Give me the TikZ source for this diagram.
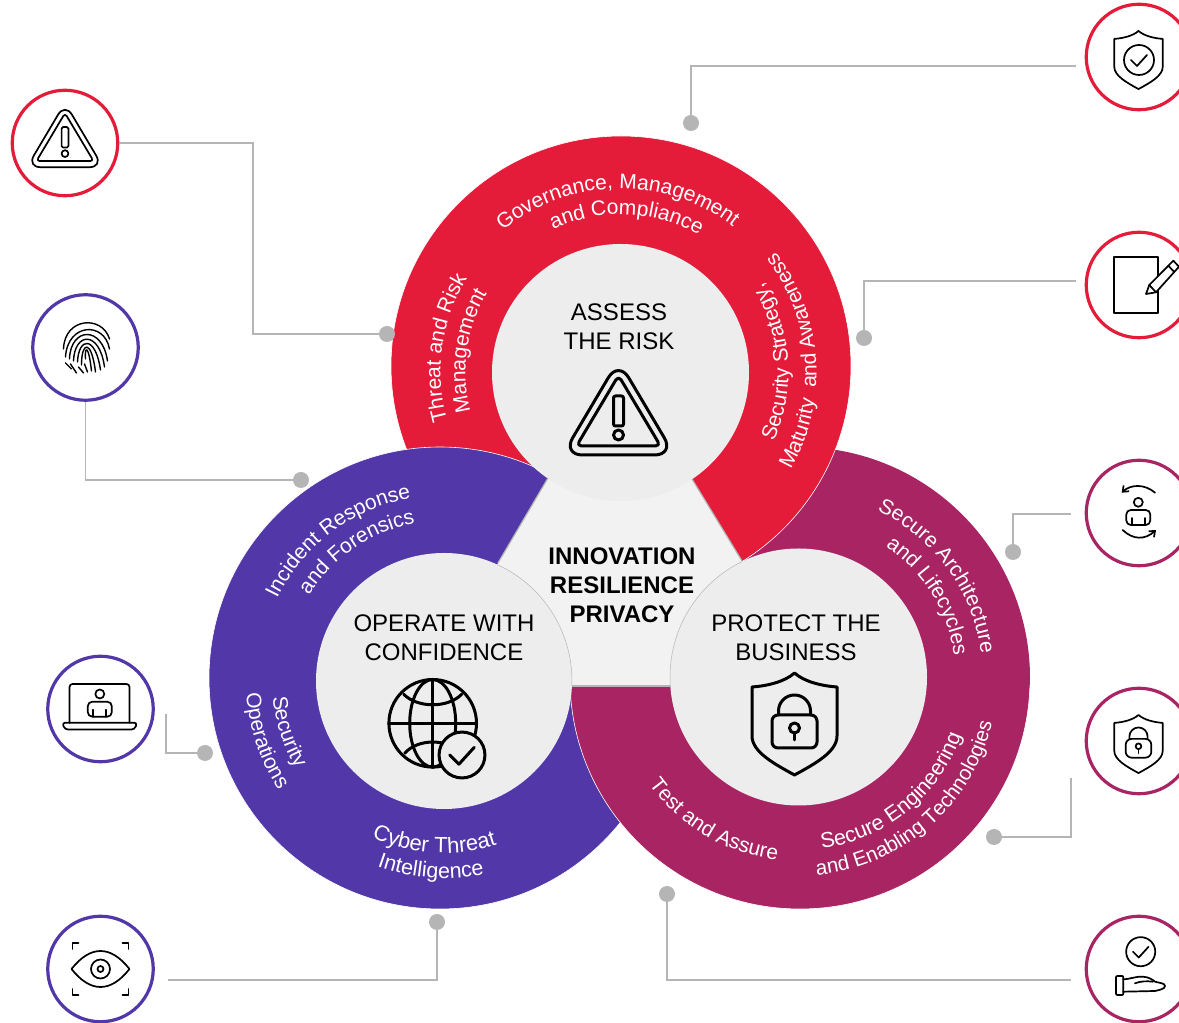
\documentclass[tikz,border=0pt]{standalone}
\usepackage{fontspec}
\setmainfont{Liberation Sans}
\usetikzlibrary{calc,positioning,arrows.meta,decorations.text}
\definecolor{riskred}{HTML}{E41C3A}
\definecolor{opsblue}{HTML}{5137A8}
\definecolor{bizpurple}{HTML}{A92463}
\definecolor{hubgrey}{HTML}{EDEDED}
\definecolor{paleback}{HTML}{F2F2F2}
\definecolor{linkgrey}{HTML}{B5B5B5}
\newcommand{\arctext}[6][21]{%
  \path[decorate,decoration={text along path,text align=center,
      text={|\fontsize{#1}{26}\selectfont\color{white}|#6}}]
    ($(#2)+(#4:#3)$) arc[start angle=#4,end angle=#5,radius=#3];}
\tikzset{
      link/.style = {draw=linkgrey, line width=1.8pt},
   dotnode/.style = {circle, fill=linkgrey, inner sep=0pt, minimum size=16pt},
      ring/.style = {circle, draw=#1, line width=3.2pt, fill=white, inner sep=0pt, minimum size=105.5pt},
   hubtext/.style = {align=center, text=black, font=\fontsize{24}{29}\selectfont},
   bigicon/.style = {line width=3pt, line join=round, line cap=round},
 smallicon/.style = {line width=1.7pt, line join=round, line cap=round},
  warnicon/.pic = {
    \draw[rounded corners=20*#1] (0,53) -- (-56,-41.5) -- (56,-41.5) -- cycle;
    \draw[rounded corners=5*#1] (0,38) -- (-42,-32.5) -- (42,-32.5) -- cycle;
    \draw[rounded corners=2*#1] (-5,17.5) rectangle (5,-12.5);
    \draw (0,-21.5) circle (5);
  },
  shieldicon/.pic = {
    \draw (0,51) .. controls (-10,42) and (-28,38) .. (-42.5,37) -- (-42.5,-12)
       .. controls (-42.5,-28) and (-20,-40) .. (0,-51)
       .. controls (20,-40) and (42.5,-28) .. (42.5,-12) -- (42.5,37)
       .. controls (28,38) and (10,42) .. (0,51) -- cycle;
  },
  lockicon/.pic = {
    \pic[transform shape] {shieldicon};
    \draw[rounded corners=6] (-22.5,9) rectangle (22.5,-24);
    \draw (-16,9) -- (-16,13) arc[start angle=180,end angle=0,radius=16] -- (16,9);
    \draw (0,-4) circle (5);
    \draw (0,-9) -- (0,-16);
  },
  checkicon/.pic = {
    \draw (0,0) circle (15);
    \draw (-8,0) -- (-2,-6) -- (8,5);
  },
  personicon/.pic = {
    \draw (0,22.7) circle (4.5);
    \draw[rounded corners=4.5] (-12,0) rectangle (12,15);
    \draw (-6.5,0) -- (-6.5,7);
    \draw (6.5,0) -- (6.5,7);
  },
  globeicon/.pic = {
    \draw (0,0) circle (43.8);
    \draw (0,0) ellipse (23 and 43.8);
    \draw (0,43.8) -- (0,-43.8);
    \draw (-43.8,0) -- (43.8,0);
    \draw (-29,29) .. controls (-15,15) and (15,15) .. (29,29);
    \draw (-28,-30) .. controls (-15,-15) and (15,-15) .. (28,-30);
    \fill[hubgrey] (29.3,-31.7) circle (23);
    \pic[scale=1.53] at (29.3,-31.7) {checkicon};
  },
  fingericon/.pic = {
    \draw (-23,-2) .. controls (-22,30) and (16,32) .. (23,8);
    \draw (-21,-10) .. controls (-19,24) and (18,26) .. (23,-2);
    \draw (-17,-12) .. controls (-16,20) and (16,22) .. (21,-14);
    \draw (-13,-14) .. controls (-12,15) and (13,17) .. (18,-20);
    \draw (-9,-15) .. controls (-8,10) and (9,12) .. (14,-23);
    \draw (-5,-18) .. controls (-5,6) and (5,8) .. (9,-25);
    \draw (-1,-12) .. controls (-2,1) and (2,3) .. (5,-24);
    \draw (-2,-17) -- (1,-25);
    \draw (-8,-20) -- (-3,-26);
    \draw (-16,-17) -- (-10,-26);
    \draw (-21,-16) -- (-15,-22);
  },
}
\begin{document}
\begin{tikzpicture}[x=1pt,y=1pt]
  \clip (0,0) rectangle (1179,1023);
  \coordinate (redhub) at (620.5,650.5);
  \coordinate (bluehub) at (444,342);
  \coordinate (purplehub) at (798.5,346);

  % the three overlapping discs
  \begin{scope}
    \clip (500,337) rectangle (1100,700);
    \fill[bizpurple] (799,345) circle (231);
  \end{scope}
  \filldraw[fill=riskred,draw=white,line width=.6pt] (621,657) circle (230);
  \filldraw[fill=opsblue,draw=white,line width=.6pt] (440,345) circle (231);
  \begin{scope}
    \clip (500,0) rectangle (1100,337);
    \filldraw[fill=bizpurple,draw=white,line width=.6pt] (800,344) circle (230);
  \end{scope}

  \fill[paleback] (548,545) -- (692,544) -- (742,462) -- (purplehub) -- (670,337) -- (572,337) -- (bluehub) -- (498,460) -- cycle;
  \fill[hubgrey] (redhub) circle (128.5);
  \fill[hubgrey] (bluehub) circle (128);
  \fill[hubgrey] (purplehub) circle (128.5);
  \draw[linkgrey,line width=1.2pt] (548,545) -- (498,460);
  \draw[linkgrey,line width=1.2pt] (692,544) -- (742,462);
  \draw[linkgrey,line width=1.2pt] (572,337) -- (670,337);
  \draw[linkgrey,line width=.5pt] ($(bluehub)+(65.4:128)$) arc[start angle=65.4,end angle=-2.2,radius=128];
  \draw[linkgrey,line width=.5pt] ($(purplehub)+(116:128.5)$) arc[start angle=116,end angle=184,radius=128.5];

  \node[hubtext] (assess) at (619,696) {ASSESS\\THE RISK};
  \node[hubtext] (operate) at (444,385) {OPERATE WITH\\CONFIDENCE};
  \node[hubtext] (protect) at (796,385) {PROTECT THE\\BUSINESS};
  \node[hubtext,font=\fontsize{24}{29}\bfseries\selectfont] (centre) at (622,438) {INNOVATION\\RESILIENCE\\PRIVACY};

  \pic[bigicon] at (618.5,609.5) {warnicon=1};
  \pic[bigicon] at (432.7,299.7) {globeicon};
  \pic[bigicon] at (794.5,299) {lockicon};

  % labels on the bands
  \arctext{redhub}{184}{151}{31}{Governance, Management}
  \arctext{redhub}{158}{147.7}{27.7}{and Compliance}
  \arctext{redhub}{180}{232}{112}{Threat and Risk}
  \arctext{redhub}{155}{232}{112}{Management}
  \arctext{redhub}{168}{-56}{64}{Security Strategy,}
  \arctext{redhub}{196}{-56}{64}{Maturity {\ }and Awareness}
  \arctext{bluehub}{186}{187}{67}{Incident Response}
  \arctext{bluehub}{160}{184}{64}{and Forensics}
  \arctext{bluehub}{172}{138}{258}{Security}
  \arctext{bluehub}{198}{138.5}{258.5}{Operations}
  \arctext[22]{bluehub}{172}{206.5}{326.5}{Cyber Threat}
  \arctext[21.5]{bluehub}{197}{206}{326}{Intelligence}
  \arctext{purplehub}{184}{96}{-24}{Secure Architecture}
  \arctext{purplehub}{157}{92}{-28}{and Lifecycles}
  \arctext{purplehub}{184}{179.5}{299.5}{Test and Assure}
  \arctext[21.5]{purplehub}{173}{249}{369}{Secure Engineering}
  \arctext[20.6]{purplehub}{199}{251}{371}{and Enabling Technologies}

  % outer icons
  \node[ring=riskred] (warnring) at (65,880) {};
  \node[ring=opsblue] (fingerring) at (85.5,675.5) {};
  \node[ring=opsblue] (laptopring) at (100.5,314) {};
  \node[ring=opsblue] (eyering) at (100.5,54) {};
  \node[ring=riskred] (shieldring) at (1139,966) {};
  \node[ring=riskred] (penring) at (1139,738) {};
  \node[ring=bizpurple] (cyclering) at (1139,510) {};
  \node[ring=bizpurple] (lockring) at (1139,282) {};
  \node[ring=bizpurple] (handring) at (1139,54) {};

  \pic[smallicon,scale=.68] at (65,884) {warnicon=.68};
  \pic[smallicon,line width=1.4pt] at (86.5,676) {fingericon};
  \pic[smallicon,scale=.57] at (1138.5,963) {shieldicon};
  \pic[smallicon] at (1139,963) {checkicon};
  \pic[smallicon,scale=.57] at (1138.5,279) {lockicon};

  \begin{scope}[shift={(laptopring)},smallicon]
    \draw[rounded corners=3] (-31,-13.7) -- (-31,25) -- (29,25) -- (29,-13.7);
    \draw[rounded corners=3] (-38.3,-13.7) -- (36.7,-13.7) -- (34,-20.5) -- (-35.6,-20.5) -- cycle;
    \pic at (-.7,-7.7) {personicon};
  \end{scope}
  \begin{scope}[shift={(eyering)},smallicon]
    \draw (-29,0) .. controls (-10,24) and (10,24) .. (29,0) .. controls (10,-24) and (-10,-24) .. (-29,0) -- cycle;
    \draw (0,0) circle (9.5);
    \draw (0,0) circle (3);
    \draw (-28,20) -- (-28,26) -- (-22,26);
    \draw (28,20) -- (28,26) -- (22,26);
    \draw (-28,-20) -- (-28,-26) -- (-22,-26);
    \draw (28,-20) -- (28,-26) -- (22,-26);
  \end{scope}
  \begin{scope}[shift={(penring)},smallicon]
    \draw (-25,27.7) rectangle (19.3,-27.7);
    \filldraw[fill=white] (7,-9) -- (10.3,0) -- (34.3,24.3) -- (40,18.3) -- (17,-7.3) -- cycle;
    \draw (10.3,0) -- (17,-7.3);
    \draw (29.3,19.3) -- (35,13.3);
  \end{scope}
  \begin{scope}[shift={(cyclering)},smallicon]
    \pic at (-.7,-12) {personicon};
    \draw[-{Straight Barb[length=5pt,width=8pt]}] (16,20.3) .. controls (6,29) and (-8,29) .. (-17.3,20.3);
    \draw[-{Straight Barb[length=5pt,width=8pt]}] (-16.3,-17) .. controls (-6,-27) and (6,-27) .. (17,-17);
  \end{scope}
  \begin{scope}[shift={(handring)},smallicon]
    \pic[scale=.97] at (1.7,17.3) {checkicon};
    \draw[rounded corners=1] (-23,-7) rectangle (-15.7,-26);
    \draw (-15.7,-10.3) .. controls (-8,-10) and (-2,-7) .. (4,-7.7) .. controls (10,-8) and (14,-11) .. (16,-12.7)
       .. controls (20,-14) and (26,-14) .. (26,-17) .. controls (26,-20) and (20,-21) .. (16,-22) -- (-15.7,-22.7);
    \draw (-4,-14.3) .. controls (2,-12) and (8,-12) .. (14,-12.7);
  \end{scope}

  % connectors
  \node[dotnode] (threatdot) at (387,689) {};
  \node[dotnode] (incidentdot) at (301,543) {};
  \node[dotnode] (opsdot) at (205,270) {};
  \node[dotnode] (cyberdot) at (437,101) {};
  \node[dotnode] (govdot) at (691,900) {};
  \node[dotnode] (stratdot) at (864,685) {};
  \node[dotnode] (archdot) at (1013,471) {};
  \node[dotnode] (engdot) at (994,186) {};
  \node[dotnode] (testdot) at (667,129) {};
  \coordinate (laptopend) at (166,309);
  \coordinate (eyeend) at (168,43);
  \coordinate (shieldend) at (1076,957);
  \coordinate (penend) at (1076,742);
  \coordinate (cycleend) at (1071,509);
  \coordinate (lockend) at (1071,245);
  \coordinate (handend) at (1071,43);
  \draw[link] (warnring.east) -- ++(134,0) |- (threatdot);
  \draw[link] (fingerring.south) |- (incidentdot);
  \draw[link] (laptopend) |- (opsdot);
  \draw[link] (eyeend) -| (cyberdot);
  \draw[link] (shieldend) -| (govdot);
  \draw[link] (penend) -| (stratdot);
  \draw[link] (cycleend) -| (archdot);
  \draw[link] (lockend) |- (engdot);
  \draw[link] (handend) -| (testdot);
\end{tikzpicture}
\end{document}
